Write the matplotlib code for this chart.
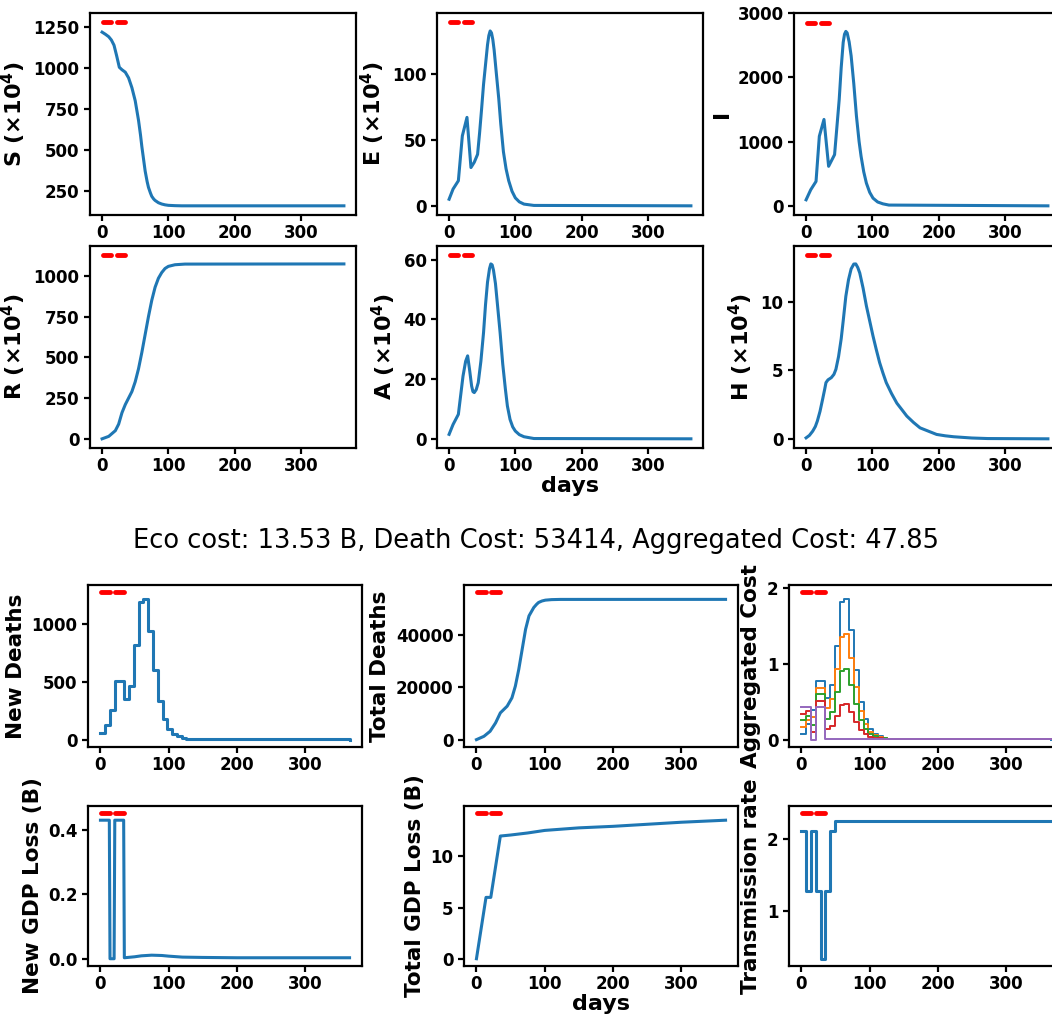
import numpy as np
from matplotlib import pyplot as plt

# compartments, values in units of 10^4 (read at selected days)
s_days = [0, 5, 10, 14, 18, 22, 26, 30, 35, 40, 45, 50, 55, 58, 60, 62, 65, 68, 70, 73, 75, 78, 80, 85, 90, 95, 100, 110, 120, 365]
s_vals = [1220, 1207, 1192, 1172, 1140, 1075, 1005, 990, 975, 940, 880, 800, 680, 590, 520, 460, 370, 305, 270, 235, 215, 198, 190, 176, 168, 163, 160, 158, 157, 157]

e_days = [0, 6, 14, 20, 27, 33, 38, 43, 46, 49, 52, 56, 58, 60, 62, 64, 66, 68, 71, 75, 78, 82, 86, 90, 95, 100, 106, 113, 128, 365]
e_vals = [5, 12.7, 19, 53, 67, 29, 33, 39, 55, 73, 92, 112, 122, 129, 132.5, 131, 126, 118, 102, 81, 62, 41, 28, 19, 11, 6, 3, 1.3, 0.3, 0]

i_days = [0, 7, 15, 20, 27, 34, 43, 50, 53, 56, 58, 60, 62, 65, 68, 72, 76, 80, 83, 87, 91, 96, 101, 108, 116, 125, 365]
i_vals = [94, 250, 380, 1083, 1344, 615, 797, 1656, 2150, 2542, 2670, 2714, 2690, 2550, 2333, 1900, 1396, 1000, 771, 530, 354, 210, 120, 60, 31, 12, 0]

r_days = [0, 10, 20, 25, 30, 35, 40, 45, 50, 55, 60, 65, 70, 75, 80, 85, 90, 95, 100, 110, 125, 365]
r_vals = [0, 15, 50, 90, 160, 210, 250, 290, 350, 430, 530, 640, 750, 850, 930, 985, 1020, 1045, 1058, 1068, 1072, 1073]

a_days = [0, 6, 14, 21, 25, 28, 31, 34, 36, 38, 41, 44, 48, 52, 55, 58, 61, 63, 65, 67, 70, 73, 77, 81, 85, 88, 92, 96, 100, 106, 113, 128, 365]
a_vals = [1.5, 4.8, 8.2, 21, 26, 27.8, 23, 17.7, 15.8, 15.5, 16.5, 18.8, 26, 35.6, 45, 52.5, 57, 58.6, 58.3, 56.5, 52, 45, 35.6, 25, 16.6, 11, 6.5, 4, 2.6, 1.4, 0.7, 0.1, 0]

h_days = [0, 5, 10, 14, 17, 21, 25, 28, 30, 33, 38, 42, 45, 49, 53, 56, 60, 64, 68, 72, 75, 78, 81, 86, 91, 96, 101, 106, 111, 116,
          121, 129, 137, 145, 152, 162, 172, 185, 197, 210, 223, 250, 274, 365]
h_vals = [0.07, 0.25, 0.56, 0.9, 1.3, 2.0, 2.9, 3.6, 4.1, 4.3, 4.46, 4.7, 5.07, 6.0, 7.3, 8.6, 10.4, 11.6, 12.4, 12.75, 12.76, 12.5, 12.1, 11.0, 9.7, 8.6, 7.5, 6.5, 5.56, 4.8,
          4.1, 3.3, 2.6, 2.1, 1.66, 1.2, 0.8, 0.55, 0.32, 0.22, 0.15, 0.06, 0.02, 0.0]

# weekly values
week_days = [0, 7, 14, 21, 28, 35, 42, 49, 56, 63, 70, 77, 84, 91, 98, 105, 112, 119, 126, 133, 140, 365]
new_deaths = [58, 130, 254, 505, 505, 352, 467, 815, 1190, 1210, 937, 600, 331, 182, 95, 52, 29, 16, 9, 5, 3, 0]

cost_w100 = [0.08, 0.20, 0.39, 0.77, 0.77, 0.55, 0.72, 1.24, 1.81, 1.85, 1.44, 0.92, 0.50, 0.27, 0.14, 0.08, 0.045, 0.025, 0.014, 0.008, 0.005, 0.0]
cost_w75 = [0.168, 0.258, 0.293, 0.685, 0.685, 0.413, 0.541, 0.932, 1.36, 1.39, 1.083, 0.693, 0.377, 0.205, 0.107, 0.062, 0.035, 0.02, 0.012, 0.007, 0.005, 0.003]
cost_w50 = [0.255, 0.315, 0.195, 0.60, 0.60, 0.277, 0.363, 0.624, 0.91, 0.93, 0.726, 0.465, 0.255, 0.139, 0.074, 0.043, 0.025, 0.015, 0.009, 0.006, 0.005, 0.004]
cost_w25 = [0.343, 0.373, 0.098, 0.515, 0.515, 0.14, 0.184, 0.315, 0.459, 0.471, 0.368, 0.238, 0.132, 0.074, 0.04, 0.025, 0.015, 0.009, 0.006, 0.004, 0.004, 0.004]
cost_w0 = [0.43, 0.43, 0.0, 0.43, 0.43, 0.003, 0.005, 0.007, 0.009, 0.011, 0.011, 0.010, 0.009, 0.008, 0.007, 0.006, 0.005, 0.005, 0.004, 0.004, 0.004, 0.004]

td_days = [0, 11, 20, 28, 35, 45, 52, 57, 62, 67, 72, 77, 84, 88, 91, 96, 101, 110, 123, 365]
td_vals = [0, 1270, 3180, 6370, 10190, 12740, 15920, 20380, 26750, 34400, 42040, 47130, 50320, 51500, 52230, 52800, 53120, 53320, 53400, 53414]

gdp_days = [0, 13, 14, 20, 21, 34, 35, 50, 60, 75, 90, 100, 120, 150, 200, 365]
gdp_vals = [0.429, 0.429, 0.0, 0.0, 0.429, 0.429, 0.003, 0.006, 0.009, 0.011, 0.010, 0.008, 0.005, 0.004, 0.003, 0.003]

tgdp_days = [0, 14, 21, 35, 50, 75, 100, 150, 200, 250, 300, 365]
tgdp_vals = [0, 6.0, 6.0, 12.0, 12.1, 12.3, 12.55, 12.8, 12.95, 13.15, 13.35, 13.55]

tr_days = [0, 7, 14, 21, 28, 35, 42, 49, 365]
tr_vals = [2.1, 1.28, 2.1, 1.28, 0.34, 1.28, 2.1, 2.24, 2.24]

lockdowns = [(1, 14), (22, 34)]

W, H = 1052, 1015


def add_box(fig, left, top, width, bottom):
    return fig.add_axes([left / W, 1 - bottom / H, width / W, (bottom - top) / H])


def mark_lockdown(ax, top):
    for a, b in lockdowns:
        ax.plot([a, b], [top * 1.05, top * 1.05], color='red', lw=3.5, solid_capstyle='round')


def make():
    plt.rcParams['font.family'] = 'DejaVu Sans'
    plt.rcParams['font.weight'] = 'bold'
    plt.rcParams['axes.labelweight'] = 'bold'
    plt.rcParams['mathtext.default'] = 'bf'
    plt.rcParams['axes.linewidth'] = 1.6
    plt.rcParams['xtick.major.width'] = 1.6
    plt.rcParams['ytick.major.width'] = 1.6
    plt.rcParams['xtick.major.size'] = 4
    plt.rcParams['ytick.major.size'] = 4
    plt.rcParams['xtick.major.pad'] = 2.5
    plt.rcParams['xtick.labelsize'] = 12
    plt.rcParams['ytick.labelsize'] = 12

    fig = plt.figure(figsize=(W / 100, H / 100), dpi=100)

    top_cols = [90, 437, 794]
    top_rows = [(13, 215), (246, 448)]
    panels = [
        (s_days, s_vals, 'S (×10$^4$)', [250, 500, 750, 1000, 1250]),
        (e_days, e_vals, 'E (×10$^4$)', [0, 50, 100]),
        (i_days, i_vals, 'I', [0, 1000, 2000, 3000]),
        (r_days, r_vals, 'R (×10$^4$)', [0, 250, 500, 750, 1000]),
        (a_days, a_vals, 'A (×10$^4$)', [0, 20, 40, 60]),
        (h_days, h_vals, 'H (×10$^4$)', [0, 5, 10]),
    ]
    for k, (xd, yd, lab, yt) in enumerate(panels):
        t, b = top_rows[k // 3]
        ax = add_box(fig, top_cols[k % 3], t, 266, b)
        ax.plot(xd, yd, color='C0', lw=2.2)
        mark_lockdown(ax, max(yd))
        ax.set_ylabel(lab, fontsize=16)
        ax.set_yticks(yt)
        ax.set_xticks([0, 100, 200, 300])
        if k == 4:
            ax.set_xlabel('days', fontsize=16, labelpad=1)

    fig.text(536 / W, 1 - 541 / H, 'Eco cost: 13.53 B, Death Cost: 53414, Aggregated Cost: 47.85',
             ha='center', va='center', fontsize=18.5, fontweight='normal')

    bot_cols = [88, 464, 789]
    bot_rows = [(585, 747), (806, 966)]

    ax = add_box(fig, bot_cols[0], bot_rows[0][0], 274, bot_rows[0][1])
    ax.step(week_days, new_deaths, where='post', color='C0', lw=2.2)
    mark_lockdown(ax, max(new_deaths))
    ax.set_ylabel('New Deaths', fontsize=15.5)
    ax.set_yticks([0, 500, 1000])

    ax = add_box(fig, bot_cols[1], bot_rows[0][0], 274, bot_rows[0][1])
    ax.plot(td_days, td_vals, color='C0', lw=2.2)
    mark_lockdown(ax, max(td_vals))
    ax.set_ylabel('Total Deaths', fontsize=15.5)
    ax.set_yticks([0, 20000, 40000])

    ax = add_box(fig, bot_cols[2], bot_rows[0][0], 274, bot_rows[0][1])
    for c, series in enumerate([cost_w100, cost_w75, cost_w50, cost_w25, cost_w0]):
        ax.step(week_days, series, where='post', color='C%d' % c, lw=1.4)
    mark_lockdown(ax, max(cost_w100))
    ax.set_ylabel('Aggregated Cost', fontsize=15.5)
    ax.set_yticks([0, 1, 2])

    ax = add_box(fig, bot_cols[0], bot_rows[1][0], 274, bot_rows[1][1])
    ax.plot(gdp_days, gdp_vals, color='C0', lw=2.2)
    mark_lockdown(ax, max(gdp_vals))
    ax.set_ylabel('New GDP Loss (B)', fontsize=15.5)
    ax.set_yticks([0.0, 0.2, 0.4])

    ax = add_box(fig, bot_cols[1], bot_rows[1][0], 274, bot_rows[1][1])
    ax.plot(tgdp_days, tgdp_vals, color='C0', lw=2.2)
    mark_lockdown(ax, max(tgdp_vals))
    ax.set_ylabel('Total GDP Loss (B)', fontsize=15.5)
    ax.set_xlabel('days', fontsize=16, labelpad=1)
    ax.set_yticks([0, 5, 10])

    ax = add_box(fig, bot_cols[2], bot_rows[1][0], 274, bot_rows[1][1])
    ax.step(tr_days, tr_vals, where='post', color='C0', lw=2.2)
    mark_lockdown(ax, max(tr_vals))
    ax.set_ylabel('Transmission rate', fontsize=15.5)
    ax.set_yticks([1, 2])

    for a in fig.axes:
        a.set_xticks([0, 100, 200, 300])

    plt.savefig('out.png', dpi=100)
    plt.close()
    return None


make()
